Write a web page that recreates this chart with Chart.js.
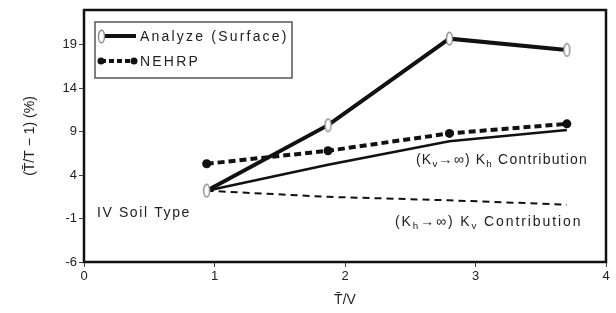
<!DOCTYPE html>
<html lang="en">
<head>
<meta charset="UTF-8">
<title>Chart</title>
<script src="https://cdn.jsdelivr.net/npm/chart.js"></script>
<style>
  body { margin: 0; background: #fff; }
  #wrap { width: 616px; height: 313px; }
</style>
</head>
<body>
<div id="wrap"><canvas id="grafico" width="616" height="313"></canvas></div>
<script>
// data
const xVals = [0.94, 1.87, 2.8, 3.7];
const analyze = [2.2, 9.75, 19.7, 18.4];
const nehrp = [5.3, 6.8, 8.8, 9.9];
const khContrib = [2.2, 5.2, 7.9, 9.2];
const kvContrib = [2.2, 1.5, 1.1, 0.6];
const xTicks = [0, 1, 2, 3, 4];
const yTicks = [-6, -1, 4, 9, 14, 19];
const seriesNames = ["Analyze (Surface)", "NEHRP"];

const FONT = "Liberation Sans, Arial, sans-serif";
const INK = "#222";

const pts = arr => arr.map((v, i) => ({ x: xVals[i], y: v }));

// open oval marker
const oval = document.createElement("canvas");
oval.width = 9; oval.height = 15;
(() => {
  const c = oval.getContext("2d");
  c.beginPath();
  c.ellipse(4.5, 7.5, 3, 6.2, 0, 0, Math.PI * 2);
  c.fillStyle = "#fff";
  c.fill();
  c.lineWidth = 1.4;
  c.strokeStyle = "#888";
  c.stroke();
})();

// text with subscripts: parts = [[text, isSub], ...]
function subText(ctx, parts, x, y, size) {
  let cx = x;
  parts.forEach(([t, sub]) => {
    ctx.font = (sub ? size * 0.7 : size) + "px " + FONT;
    ctx.fillText(t, cx, sub ? y + size * 0.3 : y);
    cx += ctx.measureText(t).width;
  });
}

const extras = {
  id: "extras",
  afterDatasetsDraw(chart) {
    const { ctx, chartArea: a } = chart;
    ctx.save();
    // frame
    ctx.strokeStyle = "#111";
    ctx.lineWidth = 2.5;
    ctx.strokeRect(a.left, a.top, a.right - a.left, a.bottom - a.top);

    // notes
    ctx.fillStyle = INK;
    ctx.textBaseline = "middle";
    ctx.textAlign = "left";
    ctx.letterSpacing = "1.6px";
    ctx.font = "14px " + FONT;
    ctx.fillText("IV Soil Type", 97, 213);
    ctx.letterSpacing = "1.2px";
    subText(ctx, [["(K", 0], ["v", 1], ["\u2192\u221e) K", 0], ["h", 1], [" Contribution", 0]], 416, 160, 14);
    ctx.letterSpacing = "1.9px";
    subText(ctx, [["(K", 0], ["h", 1], ["\u2192\u221e) K", 0], ["v", 1], [" Contribution", 0]], 395, 222, 14);

    // legend box
    ctx.fillStyle = "#fff";
    ctx.fillRect(95, 22, 197, 56);
    ctx.strokeStyle = "#555";
    ctx.lineWidth = 1.5;
    ctx.strokeRect(95, 22, 197, 56);

    ctx.strokeStyle = "#111";
    ctx.lineWidth = 4;
    ctx.beginPath(); ctx.moveTo(101, 36); ctx.lineTo(136, 36); ctx.stroke();
    ctx.drawImage(oval, 97, 29);
    ctx.setLineDash([5, 3]);
    ctx.beginPath(); ctx.moveTo(101, 61); ctx.lineTo(134, 61); ctx.stroke();
    ctx.setLineDash([]);
    ctx.fillStyle = "#111";
    [101, 134].forEach(px => { ctx.beginPath(); ctx.arc(px, 61, 3.5, 0, Math.PI * 2); ctx.fill(); });

    ctx.fillStyle = INK;
    ctx.letterSpacing = "2.2px";
    ctx.font = "14px " + FONT;
    ctx.fillText(seriesNames[0], 140, 37);
    ctx.fillText(seriesNames[1], 140, 62);
    ctx.restore();
  }
};

new Chart(document.getElementById("grafico"), {
  type: "scatter",
  data: {
    datasets: [
      {
        label: seriesNames[0], data: pts(analyze), showLine: true,
        borderColor: "#111", borderWidth: 4,
        pointStyle: oval, pointRadius: 6
      },
      {
        label: seriesNames[1], data: pts(nehrp), showLine: true,
        borderColor: "#111", borderWidth: 4, borderDash: [7, 4],
        pointStyle: "circle", pointRadius: 4.5, pointBackgroundColor: "#111", pointBorderWidth: 0
      },
      {
        label: "Kh", data: pts(khContrib), showLine: true,
        borderColor: "#111", borderWidth: 2.5, pointRadius: 0
      },
      {
        label: "Kv", data: pts(kvContrib), showLine: true,
        borderColor: "#111", borderWidth: 2, borderDash: [7, 5], pointRadius: 0
      }
    ]
  },
  options: {
    responsive: false,
    animation: false,
    devicePixelRatio: 1,
    layout: { padding: { left: 18, right: 4, top: 9, bottom: 0 } },
    plugins: { legend: { display: false }, tooltip: { enabled: false } },
    scales: {
      x: {
        type: "linear", min: 0, max: 4,
        afterBuildTicks: s => { s.ticks = xTicks.map(v => ({ value: v })); },
        afterFit: s => { s.height = 51; },
        grid: { drawOnChartArea: false, tickLength: 5, color: "#444" },
        border: { display: false },
        ticks: { color: INK, font: { family: FONT, size: 13 }, padding: 2, maxRotation: 0 },
        title: { display: true, text: "T\u0304/V", color: INK, font: { family: FONT, size: 14 }, padding: { top: 2 } }
      },
      y: {
        type: "linear", min: -6, max: 23,
        afterBuildTicks: s => { s.ticks = yTicks.map(v => ({ value: v })); },
        afterFit: s => { s.width = 66; },
        grid: { drawOnChartArea: false, tickLength: 5, color: "#444" },
        border: { display: false },
        ticks: { color: INK, font: { family: FONT, size: 13 }, padding: 2 },
        title: { display: true, text: "(T\u0304/T \u2212 1) (%)", color: INK, font: { family: FONT, size: 14 }, padding: { bottom: 4 } }
      }
    }
  },
  plugins: [extras]
});
</script>
</body>
</html>
